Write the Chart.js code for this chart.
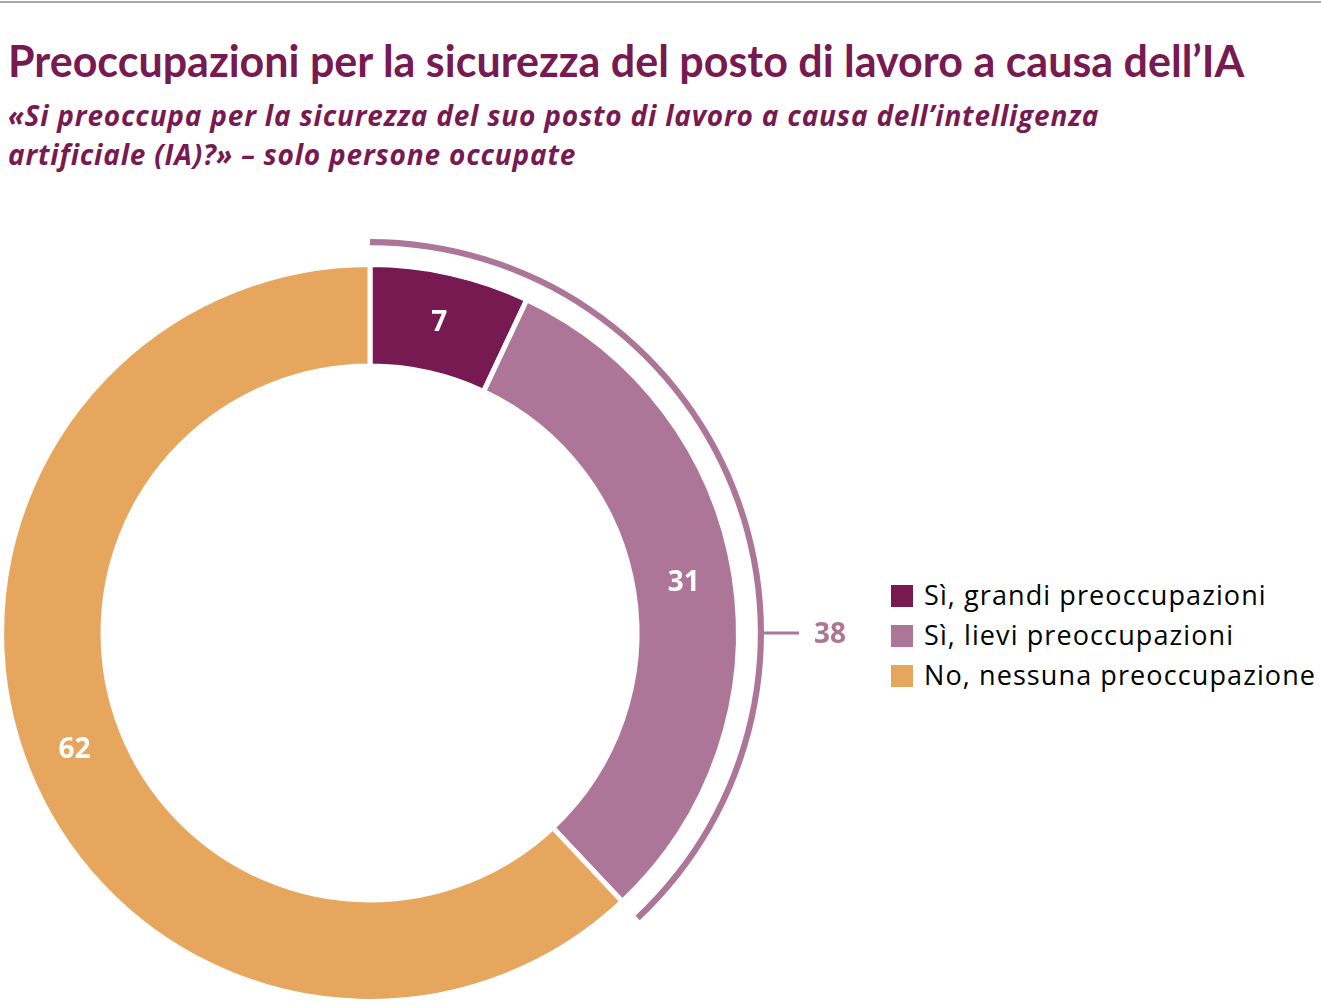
<!DOCTYPE html>
<html>
<head>
<meta charset="utf-8">
<script src="https://cdn.jsdelivr.net/npm/chart.js@4.4.0/dist/chart.umd.min.js"></script>
<style>
    html, body { margin: 0; padding: 0; width: 1321px; height: 1005px; overflow: hidden; background: #fff; }
    body { position: relative; font-family: Lato, 'Open Sans', sans-serif; color: #781a52; }
    .topline { position: absolute; left: 0; top: 1px; width: 1321px; height: 2px; background: #a6a6a6; }
    .title { position: absolute; left: 8px; top: 36px; font-size: 43px; font-weight: bold; line-height: 50px; white-space: nowrap; }
    .subtitle { position: absolute; left: 8px; top: 96px; font-family: 'Open Sans', sans-serif; font-size: 28px; font-weight: bold; font-style: italic; line-height: 39px; letter-spacing: 0.8px; white-space: nowrap; }
    .chart-box { position: absolute; left: -24px; top: 239px; width: 900px; height: 788px; }
    .legend { position: absolute; left: 891px; top: 576px; font-family: 'Open Sans', sans-serif; font-size: 27px; letter-spacing: 1.1px; color: #000; }
    .legend div { height: 40px; line-height: 38px; white-space: nowrap; }
    .legend span { display: inline-block; width: 22px; height: 22px; margin-right: 11px; vertical-align: -2px; }
</style>
</head>
<body>
<div class="topline"></div>
<div class="title">Preoccupazioni per la sicurezza del posto di lavoro a causa dell’IA</div>
<div class="subtitle">«Si preoccupa per la sicurezza del suo posto di lavoro a causa dell’intelligenza<br>artificiale (IA)?» – solo persone occupate</div>
<div class="chart-box"><canvas id="donut" width="900" height="788"></canvas></div>
<div class="legend" id="legend"></div>

<script>
// Data
const labels = ['Sì, grandi preoccupazioni', 'Sì, lievi preoccupazioni', 'No, nessuna preoccupazione'];
const values = [7, 31, 62];
const colors = ['#781a52', '#ad7699', '#e6a65e'];

// the "yes" answers together, shown with the outer bracket
const yesTotal = values[0] + values[1];
const bracketColor = '#ad7699';

// Legend
document.getElementById('legend').innerHTML = labels.map((l, i) =>
    `<div><span style="background:${colors[i]}"></span>${l}</div>`
).join('');

// Labels inside the slices + the "38" tick on the bracket
const labelPlugin = {
    id: 'sliceLabels',
    afterDatasetsDraw(chart) {
        const ctx = chart.ctx;
        const main = chart.getDatasetMeta(2);
        ctx.save();
        ctx.font = 'bold 28px "Open Sans", sans-serif';
        ctx.fillStyle = '#fff';
        ctx.textAlign = 'center';
        ctx.textBaseline = 'middle';
        main.data.forEach((arc, i) => {
            const p = arc.tooltipPosition();
            ctx.fillText(values[i], p.x, p.y);
        });

        // tick at 3 o'clock of the bracket ring
        const br = chart.getDatasetMeta(0).data[0];
        const x0 = br.x + br.outerRadius;
        ctx.strokeStyle = bracketColor;
        ctx.lineWidth = 3;
        ctx.beginPath();
        ctx.moveTo(x0 - 2, br.y);
        ctx.lineTo(x0 + 35, br.y);
        ctx.stroke();
        ctx.fillStyle = bracketColor;
        ctx.textAlign = 'left';
        ctx.fillText(yesTotal, x0 + 50, br.y + 2);
        ctx.restore();
    }
};

new Chart(document.getElementById('donut'), {
    type: 'doughnut',
    data: {
        labels: labels,
        datasets: [
            {
                // outer bracket ring
                data: [yesTotal, values[2]],
                backgroundColor: [bracketColor, 'rgba(0,0,0,0)'],
                borderWidth: 0,
                weight: 6
            },
            {
                // empty gap ring
                data: [1],
                backgroundColor: ['rgba(0,0,0,0)'],
                borderWidth: 0,
                weight: 19
            },
            {
                data: values,
                backgroundColor: colors,
                borderColor: '#fff',
                borderWidth: 5,
                hoverBorderWidth: 5,
                weight: 99
            }
        ]
    },
    options: {
        responsive: false,
        animation: false,
        cutout: 267,
        layout: { padding: { left: 0, right: 112, top: 0, bottom: 0 } },
        plugins: {
            legend: { display: false },
            tooltip: { enabled: false }
        },
        events: []
    },
    plugins: [labelPlugin]
});
</script>
</body>
</html>
